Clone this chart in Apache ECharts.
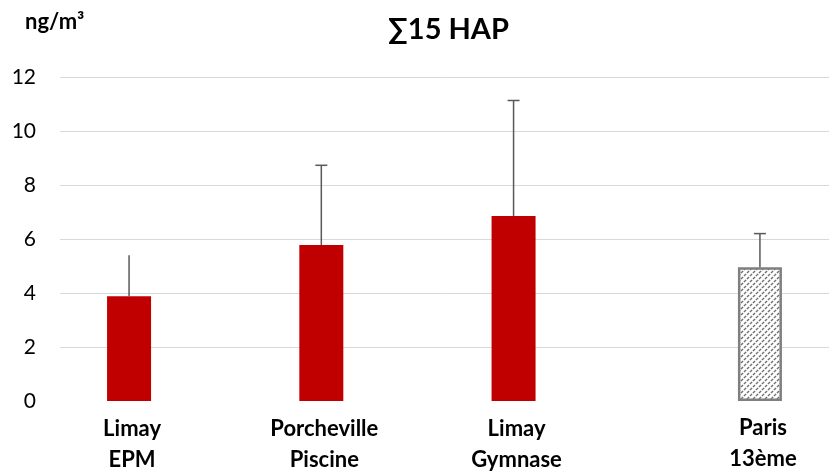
<!DOCTYPE html>
<html>
<head>
<meta charset="utf-8">
<script src="https://cdn.jsdelivr.net/npm/echarts@6/dist/echarts.min.js"></script>
<style>html,body{margin:0;padding:0;background:#fff}#c{width:829px;height:473px}</style>
</head>
<body>
<div id="c"></div>
<script>
var categories = ['Limay\nEPM', 'Porcheville\nPiscine', 'Limay\nGymnase', 'Paris\n13ème'];
var campaignValues = [3.88, 5.78, 6.85, '-'];
var referenceValues = ['-', '-', '-', 4.95];
var upperErrors = [1.52, 2.95, 4.28, 1.25];
var yTicks = [0, 2, 4, 6, 8, 10, 12];

var BAR_W = 44, GAP_RATIO = 0.23;
var OFFSET = BAR_W * (1 + GAP_RATIO) / 2;

function hatch() {
  var c = document.createElement('canvas');
  c.width = 6; c.height = 6;
  var g = c.getContext('2d');
  g.fillStyle = '#fff'; g.fillRect(0, 0, 6, 6);
  g.strokeStyle = '#6f6f6f'; g.lineWidth = 1.4;
  g.setLineDash([3, 1.2]);
  [[0, 6, 6, 0], [-3, 3, 3, -3], [3, 9, 9, 3]].forEach(function (l) {
    g.beginPath(); g.moveTo(l[0], l[1]); g.lineTo(l[2], l[3]); g.stroke();
  });
  return c;
}

var errData = categories.map(function (c, i) {
  var v = campaignValues[i] !== '-' ? campaignValues[i] : referenceValues[i];
  var side = campaignValues[i] !== '-' ? -1 : 1;
  return [i, v, v + upperErrors[i], side];
});

var chart = echarts.init(document.getElementById('c'));
var labelStyle = {
  show: true, position: 'bottom', distance: 12, offset: [3, 0],
  formatter: function (p) { return p.name; },
  fontFamily: 'Lato', fontWeight: 'bold', fontSize: 22, lineHeight: 31, color: '#000'
};
chart.setOption({
  animation: false,
  title: {
    text: '∑15 HAP', left: 383, top: 10,
    textStyle: { fontFamily: 'Lato', fontWeight: 'bold', fontSize: 29, color: '#000' }
  },
  graphic: [{
    type: 'text', left: 25, top: 11,
    style: { text: 'ng/m³', fontFamily: 'Lato', fontWeight: 'bold', fontSize: 22, fill: '#000' }
  }],
  grid: { left: 60, right: -8, top: 77, bottom: 72 },
  xAxis: {
    type: 'category', data: categories,
    axisLine: { show: false }, axisTick: { show: false }, axisLabel: { show: false }
  },
  yAxis: {
    type: 'value', min: yTicks[0], max: yTicks[yTicks.length - 1], interval: 2,
    axisLine: { show: false }, axisTick: { show: false },
    axisLabel: { fontFamily: 'Lato', fontSize: 21, color: '#000', margin: 24 },
    splitLine: { lineStyle: { color: ['rgba(0,0,0,0)', '#d9d9d9', '#d9d9d9', '#d9d9d9', '#d9d9d9', '#d9d9d9', '#d9d9d9'], width: 1 } }
  },
  series: [
    {
      type: 'bar', data: campaignValues, barWidth: BAR_W, barGap: (GAP_RATIO * 100) + '%',
      itemStyle: { color: '#c00000' }, label: labelStyle
    },
    {
      type: 'bar', data: referenceValues, barWidth: BAR_W,
      itemStyle: { color: { image: hatch(), repeat: 'repeat' }, borderColor: '#7f7f7f', borderWidth: 2.5 },
      label: Object.assign({}, labelStyle, { distance: 11 })
    },
    {
      type: 'custom', data: errData, z: 10,
      renderItem: function (params, api) {
        var i = api.value(0);
        var p0 = api.coord([i, api.value(1)]);
        var p1 = api.coord([i, api.value(2)]);
        var x = p0[0] + api.value(3) * OFFSET;
        var st = { stroke: '#595959', lineWidth: 1.5 };
        var children = [{ type: 'line', shape: { x1: x, y1: p0[1], x2: x, y2: p1[1] }, style: st }];
        if (params.dataIndex > 0) {
          children.push({ type: 'line', shape: { x1: x - 6, y1: p1[1], x2: x + 6, y2: p1[1] }, style: st });
        }
        return { type: 'group', children: children };
      }
    }
  ]
});
</script>
</body>
</html>
